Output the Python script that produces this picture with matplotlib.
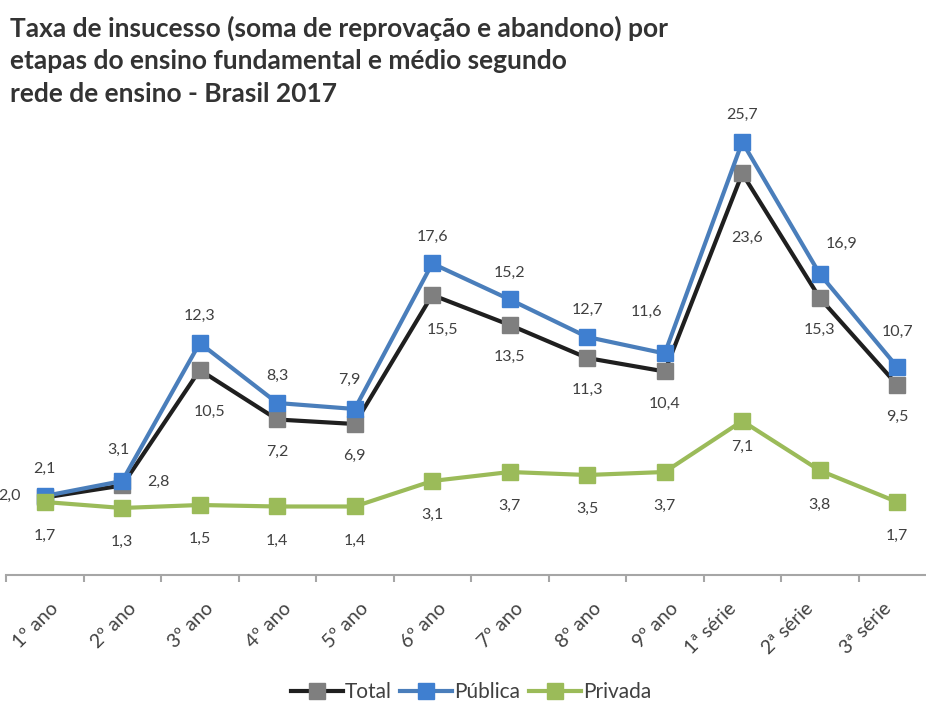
import matplotlib
matplotlib.use("Agg")
import matplotlib.pyplot as plt
import matplotlib.transforms as mtransforms
from matplotlib.lines import Line2D

plt.rcParams['font.family'] = ['Lato', 'DejaVu Sans']

categories = ["1º ano", "2º ano", "3º ano", "4º ano", "5º ano", "6º ano",
              "7º ano", "8º ano", "9º ano", "1ª série", "2ª série", "3ª série"]
total = [2.0, 2.8, 10.5, 7.2, 6.9, 15.5, 13.5, 11.3, 10.4, 23.6, 15.3, 9.5]
publica = [2.1, 3.1, 12.3, 8.3, 7.9, 17.6, 15.2, 12.7, 11.6, 25.7, 16.9, 10.7]
privada = [1.7, 1.3, 1.5, 1.4, 1.4, 3.1, 3.7, 3.5, 3.7, 7.1, 3.8, 1.7]

W, H, DPI = 926, 709, 100
fig = plt.figure(figsize=(W / DPI, H / DPI), dpi=DPI)
fig.patch.set_facecolor("white")

ax_left, ax_right = 6, 936
ax_top, ax_bot = 77.5, 575
ax = fig.add_axes([ax_left / W, (H - ax_bot) / H, (ax_right - ax_left) / W, (ax_bot - ax_top) / H])
ax.set_xlim(-0.5, len(categories) - 0.5)
ax.set_ylim(-3.167, 30)
ax.set_facecolor("none")

x = list(range(len(categories)))
C_TOTAL_LINE = "#1f1f1f"
C_TOTAL_MK = "#7f7f7f"
C_PUB = "#4a7ebb"
C_PUB_MK = "#3f7fd0"
C_PRI = "#9bbb59"
ms = 12
lw = 3

ax.plot(x, total, color=C_TOTAL_LINE, lw=lw, marker="s", ms=ms,
        mfc=C_TOTAL_MK, mec=C_TOTAL_MK, zorder=3, solid_joinstyle="round")
ax.plot(x, publica, color=C_PUB, lw=lw, marker="s", ms=ms,
        mfc=C_PUB_MK, mec=C_PUB_MK, zorder=4, solid_joinstyle="round")
ax.plot(x, privada, color=C_PRI, lw=lw, marker="s", ms=ms,
        mfc=C_PRI, mec=C_PRI, zorder=5, solid_joinstyle="round")

px2pt = 72 / DPI
lab_color = "#404040"
lab_fs = 11.5

def fmt(v):
    return f"{v:.1f}".replace(".", ",")

# label offsets in pixels (dx, dy) where dy positive = downward
pub_off = {1: (-4, -31), 4: (-5, -29), 8: (-18, -42), 10: (22, -30), 11: (0, -35)}
tot_off = {0: (-35, -2), 1: (36, -4), 2: (10, 42), 5: (10, 35), 9: (5, 64)}
pri_off = {9: (0, 26)}

def label_series(vals, offs, default):
    for i, v in enumerate(vals):
        dx, dy = offs.get(i, default)
        ax.annotate(fmt(v), (i, v), xytext=(dx * px2pt, -dy * px2pt),
                    textcoords="offset points", ha="center", va="center",
                    fontsize=lab_fs, color=lab_color, zorder=6)

label_series(publica, pub_off, (0, -27))
label_series(total, tot_off, (0, 32))
label_series(privada, pri_off, (0, 34))

# axes styling
for s in ["top", "right", "left"]:
    ax.spines[s].set_visible(False)
ax.spines["bottom"].set_color("#a6a6a6")
ax.spines["bottom"].set_linewidth(1.5)
ax.set_yticks([])
ax.set_xticks(x)
ax.set_xticklabels(categories, rotation=45, ha="right", va="top",
                   rotation_mode="anchor", fontsize=14, color="#404040")
ax.tick_params(axis="x", which="major", length=0, pad=18)
ax.set_xticks([i - 0.5 for i in range(len(categories) + 1)], minor=True)
ax.tick_params(axis="x", which="minor", length=5, width=1.5, color="#a6a6a6", direction="out")
for lbl in ax.get_xticklabels():
    shift = 5 if "ano" in lbl.get_text() else -15
    lbl.set_transform(lbl.get_transform() + mtransforms.ScaledTranslation(shift / DPI, 0, fig.dpi_scale_trans))

# title
title_lines = ["Taxa de insucesso (soma de reprovação e abandono) por",
               "etapas do ensino fundamental e médio segundo",
               "rede de ensino - Brasil 2017"]
for k, t in enumerate(title_lines):
    fig.text(10 / W, 1 - (28 + 33 * k) / H, t, ha="left", va="center",
             fontsize=19, fontweight="bold", color="#333333")

# legend
handles = [
    Line2D([], [], color=C_TOTAL_LINE, lw=lw, marker="s", ms=11, mfc=C_TOTAL_MK, mec=C_TOTAL_MK),
    Line2D([], [], color=C_PUB, lw=lw, marker="s", ms=11, mfc=C_PUB_MK, mec=C_PUB_MK),
    Line2D([], [], color=C_PRI, lw=lw, marker="s", ms=11, mfc=C_PRI, mec=C_PRI),
]
fig.legend(handles, ["Total", "Pública", "Privada"], loc="center",
           bbox_to_anchor=(471 / W, 1 - 692 / H), ncol=3, frameon=False,
           fontsize=15, handlelength=2.5, handletextpad=0.1, columnspacing=0.4,
           labelcolor="#404040")

fig.savefig("out.png", dpi=DPI, facecolor="white")
